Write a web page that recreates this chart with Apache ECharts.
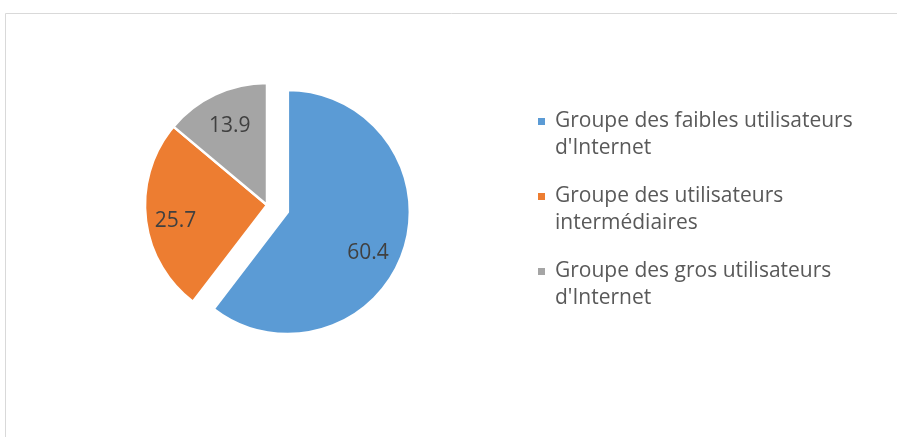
<!DOCTYPE html>
<html>
<head>
<meta charset="utf-8">
<script src="https://cdn.jsdelivr.net/npm/echarts@6/dist/echarts.min.js"></script>
<style>
html,body{margin:0;padding:0;background:#fff;}
#chart{width:897px;height:437px;}
</style>
</head>
<body>
<div id="chart"></div>
<script>
const categories = [
  "Groupe des faibles utilisateurs\nd'Internet",
  "Groupe des utilisateurs\nintermédiaires",
  "Groupe des gros utilisateurs\nd'Internet"
];
const values = [60.4, 25.7, 13.9];
const colors = ['#5B9BD5', '#ED7D31', '#A5A5A5'];

const chart = echarts.init(document.getElementById('chart'));
const FONT = 'Open Sans';
const labelShift = [[-8, 11], [1, 6], [2, 5]];

const pieData = categories.map((c, i) => ({
  name: c,
  value: values[i],
  selected: i === 0,
  itemStyle: { color: colors[i] }
}));
const labelData = categories.map((c, i) => ({
  name: c,
  value: values[i],
  selected: i === 0
}));

chart.setOption({
  animation: false,
  graphic: [{
    type: 'rect',
    shape: { x: 5.5, y: 13.5, width: 1000, height: 1000 },
    style: { fill: 'none', stroke: '#D9D9D9', lineWidth: 1 },
    silent: true
  }],
  legend: {
    orient: 'vertical',
    left: 536,
    top: 81,
    padding: 0,
    itemGap: -6,
    itemWidth: 9,
    itemHeight: 9,
    icon: 'rect',
    selectedMode: false,
    data: categories,
    formatter: name => ' \n' + name,
    textStyle: {
      fontFamily: FONT,
      fontSize: 21,
      color: '#595959',
      lineHeight: 27,
      padding: [0, 0, 0, 4]
    }
  },
  series: [{
    type: 'pie',
    center: [267, 205],
    radius: [0, 122],
    startAngle: 90,
    clockwise: true,
    selectedMode: 'single',
    selectedOffset: 22,
    silent: true,
    itemStyle: { borderColor: '#ffffff', borderWidth: 2.5 },
    label: { show: false },
    labelLine: { show: false },
    emphasis: { disabled: true },
    data: pieData
  }, {
    type: 'pie',
    center: [267, 205],
    radius: [58, 122],
    startAngle: 90,
    clockwise: true,
    selectedMode: 'single',
    selectedOffset: 22,
    silent: true,
    legendHoverLink: false,
    itemStyle: { color: 'rgba(0,0,0,0)' },
    label: {
      show: true,
      position: 'inside',
      fontFamily: FONT,
      fontSize: 21,
      color: '#404040',
      formatter: p => p.value.toFixed(1)
    },
    labelLayout: p => ({ dx: labelShift[p.dataIndex][0], dy: labelShift[p.dataIndex][1] }),
    labelLine: { show: false },
    emphasis: { disabled: true },
    data: labelData
  }]
});
</script>
</body>
</html>
